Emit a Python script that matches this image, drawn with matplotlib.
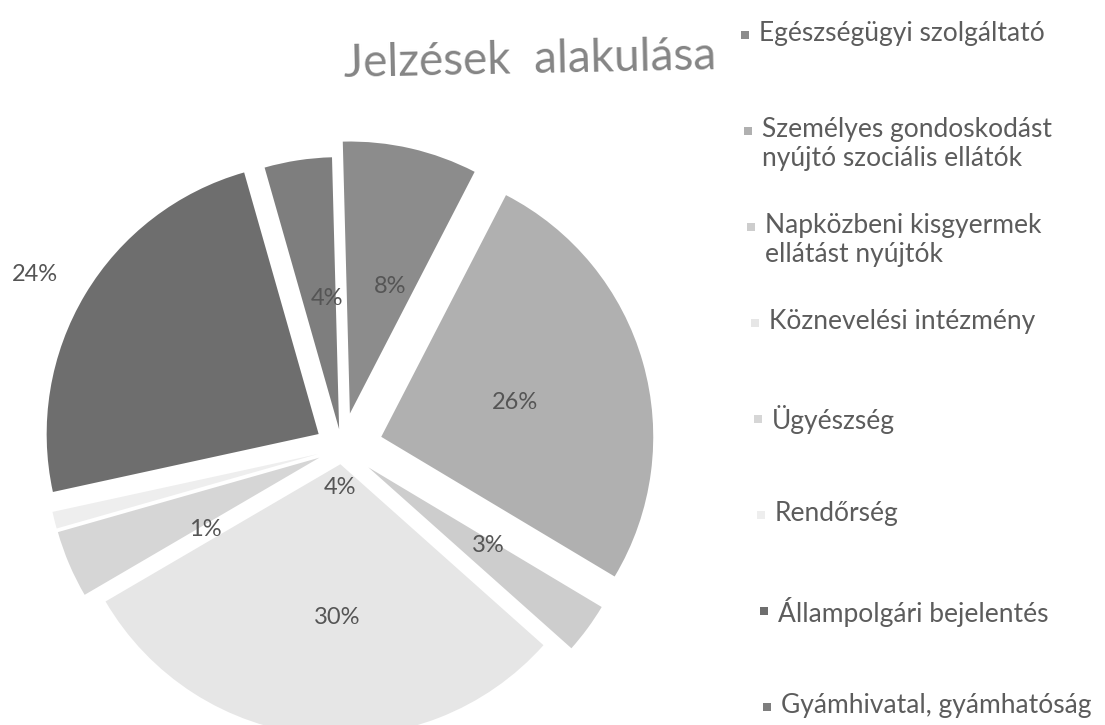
import numpy as np
import matplotlib
matplotlib.use("Agg")
import matplotlib.pyplot as plt
from matplotlib.patches import Rectangle

# data
categories = ['Egészségügyi szolgáltató',
              'Személyes gondoskodást\nnyújtó szociális ellátók',
              'Napközbeni kisgyermek\nellátást nyújtók',
              'Köznevelési intézmény',
              'Ügyészség',
              'Rendőrség',
              'Állampolgári bejelentés',
              'Gyámhivatal, gyámhatóság']
shares = [8, 26, 3, 30, 4, 1, 24, 4]
pct_labels = ['8%', '26%', '3%', '30%', '4%', '1%', '24%', '4%']

# look of the scan
colors = ['#8c8c8c', '#b0b0b0', '#cdcdcd', '#e6e6e6',
          '#d6d6d6', '#eeeeee', '#6e6e6e', '#7e7e7e']
explode = [0.13, 0.15, 0.12, 0.06, 0.09, 0.09, 0.10, 0.07]
# where the percent labels sit (radius, angle in degrees), as placed in the original
label_r = [0.618, 0.657, 0.645, 0.625, 0.147, 0.587, 1.297, 0.554]
label_ang = [73.4, 14.6, -33.6, -91.7, -92.9, -149.1, 150.5, 95.7]

W, H = 1105, 725
R_PX = 272.0
CX, CY = 342.0, 448.0
TILT = 1.5  # the scanned page is slightly rotated

plt.rcParams['font.family'] = ['Lato', 'DejaVu Sans']

fig = plt.figure(figsize=(W / 100, H / 100), dpi=100)
fig.patch.set_facecolor('white')
ax = fig.add_axes([0, 0, 1, 1])

ax.pie(shares, explode=explode, colors=colors, startangle=90 + TILT,
       counterclock=False, radius=1, wedgeprops=dict(linewidth=0))

ax.set_xlim(-CX / R_PX, (W - CX) / R_PX)
ax.set_ylim(-(H - CY) / R_PX, CY / R_PX)
ax.set_aspect('equal')
ax.axis('off')

for txt, r, a in zip(pct_labels, label_r, label_ang):
    t = np.deg2rad(a)
    ax.text(r * np.cos(t), r * np.sin(t), txt, ha='center', va='center',
            fontsize=17, color='#555555')

# title
fig.text(530 / W, 1 - 60 / H, 'Jelzések  alakulása', ha='center', va='center',
         fontsize=33, color='#858585', rotation=1.2)

# legend drawn by hand: even spacing, scan is slightly skewed
for i, (lab, col) in enumerate(zip(categories, colors)):
    y = 35 + i * 96.0
    x = 745 + 0.033 * (y - 35)
    fig.patches.append(Rectangle(((x - 4) / W, 1 - (y + 4) / H), 8 / W, 8 / H,
                                 transform=fig.transFigure, facecolor=col,
                                 edgecolor='none'))
    fig.text((x + 14) / W, 1 - (y - 14) / H, lab, ha='left', va='top',
             fontsize=19, color='#5c5c5c', linespacing=1.2)

fig.savefig('out.png', dpi=100, facecolor='white')
